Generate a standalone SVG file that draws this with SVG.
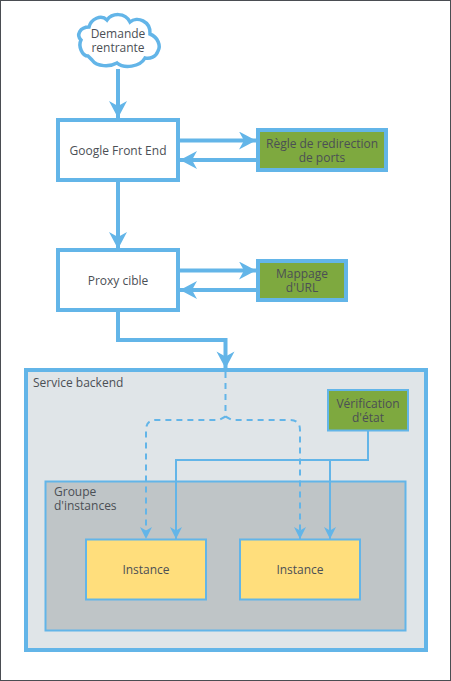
<svg xmlns="http://www.w3.org/2000/svg" width="451" height="681" viewBox="0 0 451 681">
<style>
text{font-family:"Open Sans","Liberation Sans",sans-serif;font-size:12px;fill:#4b4f55;text-anchor:middle}
.n{stroke:#63b5e8;stroke-width:4}
.w{fill:#fff}.g{fill:#7ea93f}
.c{fill:none;stroke:#63b5e8}
.t{stroke-width:4}.m{stroke-width:2}
.d{stroke-width:2;stroke-dasharray:6 5}
.l{text-anchor:start}
</style>
<defs>
<marker id="a" markerUnits="userSpaceOnUse" markerWidth="20" markerHeight="20" refX="18" refY="9" orient="auto" viewBox="0 0 20 20"><path d="M1 0L18 9L1 18L6 9Z" fill="#63b5e8"/></marker>
<marker id="s" markerUnits="userSpaceOnUse" markerWidth="14" markerHeight="14" refX="12" refY="6" orient="auto" viewBox="0 0 14 14"><path d="M0 0L12 6L0 12L3.500 6Z" fill="#63b5e8"/></marker>
</defs>
<rect x="0.500" y="0.500" width="450" height="680" fill="#fff" stroke="#4a4d52"/>
<g id="service-backend"><rect class="n" x="26" y="370" width="400" height="280" fill="#e0e5e8"/><text class="l" x="33" y="387">Service backend</text></g>
<g id="groupe-instances"><rect class="n" x="45.500" y="481.500" width="360" height="149" fill="#bfc5c7" style="stroke-width:2"/><text class="l" y="496"><tspan x="54">Groupe</tspan><tspan x="54" dy="14">d'instances</tspan></text></g>
<g id="connectors">
<path class="c t" d="M118 69V118" marker-end="url(#a)"/>
<path class="c t" d="M180 140.500H256" marker-end="url(#a)"/>
<path class="c t" d="M256 160H180" marker-end="url(#a)"/>
<path class="c t" d="M118 182V249" marker-end="url(#a)"/>
<path class="c t" d="M180 270.500H256" marker-end="url(#a)"/>
<path class="c t" d="M256 290H180" marker-end="url(#a)"/>
<path class="c t" d="M118 312V340H225.500V368.500" marker-end="url(#a)"/>
<path class="c d" d="M225.500 372V417"/>
<path class="c d" d="M225.500 416.500L219 420H156Q146 420 146 430V539" marker-end="url(#s)"/>
<path class="c d" d="M225.500 416.500L232 420H290Q300 420 300 430V539" marker-end="url(#s)"/>
<path class="c m" d="M368 431V460H176V539" marker-end="url(#s)"/>
<path class="c m" d="M330 460V539" marker-end="url(#s)"/>
</g>
<g id="demande-rentrante"><path d="M81 40C76 35 80 27 89 27C91 19 101 14 107 20C112 13 125 12 130 22C137 16 151 21 150 34C158 37 161 46 158 51C156 57 150 59 145 58C140 67 124 69 117 63C110 67 97 67 92 60C90 58 89 57 88 56C82 56 78 46 81 40Z" fill="#fff" stroke="#63b5e8" stroke-width="3.500"/><text x="118" y="38"><tspan x="118">Demande</tspan><tspan x="118" dy="14">rentrante</tspan></text></g>
<g id="google-front-end"><rect class="n w" x="58" y="120" width="120" height="60"/><text x="118" y="155">Google Front End</text></g>
<g id="regle-redirection"><rect class="n g" x="258" y="130" width="128" height="40"/><text y="148"><tspan x="322">Règle de redirection</tspan><tspan x="322" dy="14">de ports</tspan></text></g>
<g id="proxy-cible"><rect class="n w" x="58" y="250" width="120" height="60"/><text x="118" y="285">Proxy cible</text></g>
<g id="mappage-url"><rect class="n g" x="258" y="261" width="88" height="39"/><text y="278"><tspan x="302">Mappage</tspan><tspan x="302" dy="14">d'URL</tspan></text></g>
<g id="verification-etat"><rect class="n g" x="328" y="390" width="80" height="40.500" style="stroke-width:2"/><text y="408"><tspan x="368">Vérification</tspan><tspan x="368" dy="14">d'état</tspan></text></g>
<g id="instance-1"><rect class="n" x="86" y="539.500" width="120" height="60" fill="#ffde7c" style="stroke-width:2"/><text x="146" y="574">Instance</text></g>
<g id="instance-2"><rect class="n" x="240" y="539.500" width="120" height="60" fill="#ffde7c" style="stroke-width:2"/><text x="300" y="574">Instance</text></g>
</svg>
